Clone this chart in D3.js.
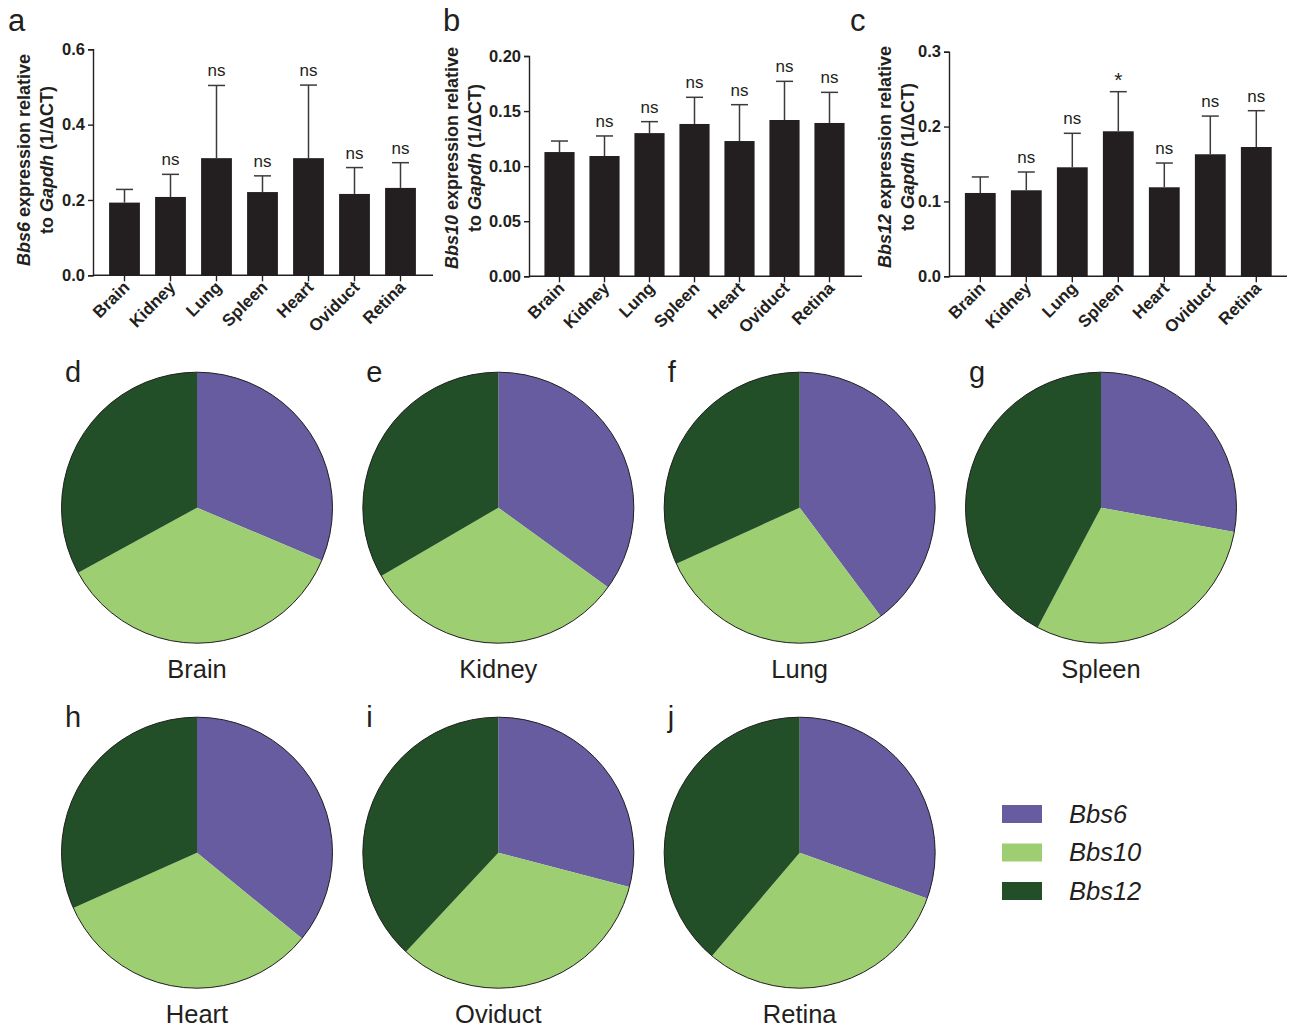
<!DOCTYPE html>
<html><head><meta charset="utf-8">
<script src="https://cdn.jsdelivr.net/npm/d3@7"></script>
<style>
body{margin:0;background:#fff;}
svg{display:block;font-family:"Liberation Sans",Arial,Helvetica,sans-serif;}
</style></head>
<body>
<svg id="chart" width="1291" height="1028"></svg>
<script>
// ---------- data ----------
const tissues = ["Brain","Kidney","Lung","Spleen","Heart","Oviduct","Retina"];
const genes = ["Bbs6","Bbs10","Bbs12"];

const bbs6Mean  = [0.193,0.208,0.311,0.221,0.311,0.216,0.232];
const bbs6Err   = [0.035,0.060,0.193,0.043,0.194,0.070,0.067];
const bbs6Sig   = ["","ns","ns","ns","ns","ns","ns"];

const bbs10Mean = [0.1128,0.1092,0.1300,0.1383,0.1228,0.1419,0.1392];
const bbs10Err  = [0.0100,0.0182,0.0104,0.0242,0.0330,0.0351,0.0278];
const bbs10Sig  = ["","ns","ns","ns","ns","ns","ns"];

const bbs12Mean = [0.1113,0.1149,0.1456,0.1937,0.1189,0.1630,0.1727];
const bbs12Err  = [0.0214,0.0244,0.0454,0.0529,0.0324,0.0510,0.0485];
const bbs12Sig  = ["","ns","ns","*","ns","ns","ns"];

const bbs6Ticks  = [0,0.2,0.4,0.6];
const bbs10Ticks = [0,0.05,0.10,0.15,0.20];
const bbs12Ticks = [0,0.1,0.2,0.3];

// pie fractions per tissue
const pieBbs6  = [0.314,0.350,0.398,0.279,0.359,0.291,0.305];
const pieBbs10 = [0.357,0.316,0.284,0.299,0.324,0.329,0.307];
const pieBbs12 = [0.330,0.334,0.318,0.423,0.317,0.381,0.388];

const pieLetters = ["d","e","f","g","h","i","j"];

// ---------- style ----------
const INK = "#231f20";
const geneColors = ["#675ca0","#9dce72","#224f27"];

const svg = d3.select("#chart");

// ---------- bar panels ----------
const barPanels = [
  {letter:"a", lx:8, ly:31, gene:"Bbs6", mean:bbs6Mean, err:bbs6Err, sig:bbs6Sig, ticks:bbs6Ticks, fmt:".1f",
   max:0.6, ax:93, y0:275.3, yTop:49.3, firstC:124.5, step:46, axEnd:433, t1:30, t2:53, tc:160},
  {letter:"b", lx:443, ly:31, gene:"Bbs10", mean:bbs10Mean, err:bbs10Err, sig:bbs10Sig, ticks:bbs10Ticks, fmt:".2f",
   max:0.2, ax:529, y0:276.3, yTop:56, firstC:559.5, step:45, axEnd:862, t1:458, t2:481, tc:158},
  {letter:"c", lx:850, ly:31, gene:"Bbs12", mean:bbs12Mean, err:bbs12Err, sig:bbs12Sig, ticks:bbs12Ticks, fmt:".1f",
   max:0.3, ax:949, y0:276.3, yTop:51.7, firstC:980.3, step:46, axEnd:1287, t1:891, t2:914, tc:157}
];

barPanels.forEach(p => {
  const g = svg.append("g");
  const pad = 0.33;
  const x = d3.scaleBand().domain(tissues)
    .range([p.firstC - p.step/2, p.firstC - p.step/2 + p.step*tissues.length])
    .paddingInner(pad).paddingOuter(pad/2);
  const y = d3.scaleLinear().domain([0,p.max]).range([p.y0,p.yTop]);

  // bars
  g.selectAll("rect.bar").data(tissues).join("rect")
    .attr("x", d => x(d)).attr("width", x.bandwidth())
    .attr("y", (d,i) => y(p.mean[i])).attr("height", (d,i) => p.y0 - y(p.mean[i]))
    .attr("fill", INK);

  // error bars
  const capW = 8.5;
  const eb = g.selectAll("g.eb").data(tissues).join("g");
  eb.append("line")
    .attr("x1", d => x(d)+x.bandwidth()/2).attr("x2", d => x(d)+x.bandwidth()/2)
    .attr("y1", (d,i) => y(p.mean[i])).attr("y2", (d,i) => y(p.mean[i]+p.err[i]))
    .attr("stroke","#3c3a3b").attr("stroke-width",1.5);
  eb.append("line")
    .attr("x1", d => x(d)+x.bandwidth()/2-capW).attr("x2", d => x(d)+x.bandwidth()/2+capW)
    .attr("y1", (d,i) => y(p.mean[i]+p.err[i])).attr("y2", (d,i) => y(p.mean[i]+p.err[i]))
    .attr("stroke","#3c3a3b").attr("stroke-width",1.5);

  // significance labels
  g.selectAll("text.sig").data(tissues).join("text")
    .attr("x", d => x(d)+x.bandwidth()/2)
    .attr("y", (d,i) => y(p.mean[i]+p.err[i]) - (p.sig[i]==="*" ? 5 : 9))
    .attr("text-anchor","middle")
    .attr("font-size", (d,i) => p.sig[i]==="*" ? 21 : 17)
    .attr("fill", INK)
    .text((d,i) => p.sig[i]);

  // y axis
  const yAxis = g.append("g").attr("transform",`translate(${p.ax},0)`)
    .call(d3.axisLeft(y).tickValues(p.ticks).tickFormat(d3.format(p.fmt)).tickSize(5).tickPadding(3));
  yAxis.select(".domain").attr("stroke",INK).attr("stroke-width",1.4);
  yAxis.selectAll(".tick line").attr("stroke",INK).attr("stroke-width",1.4);
  yAxis.selectAll("text").attr("font-size",16.5).attr("font-weight","bold").attr("fill",INK)
    .attr("font-family","Liberation Sans, Arial, sans-serif");

  // x axis
  const xAxis = g.append("g").attr("transform",`translate(0,${p.y0})`)
    .call(d3.axisBottom(x).tickSize(6).tickSizeOuter(0));
  xAxis.select(".domain").remove();
  xAxis.append("line").attr("x1",p.ax).attr("x2",p.axEnd).attr("stroke",INK).attr("stroke-width",1.4);
  xAxis.selectAll(".tick line").attr("stroke",INK).attr("stroke-width",1.4);
  xAxis.selectAll(".tick text")
    .attr("x",0).attr("y",0).attr("dy",0)
    .attr("transform","translate(6,13) rotate(-45)")
    .attr("text-anchor","end")
    .attr("font-size",17).attr("font-weight","bold").attr("fill",INK)
    .attr("font-family","Liberation Sans, Arial, sans-serif");

  // y title
  const t1 = g.append("text").attr("transform",`translate(${p.t1},${p.tc}) rotate(-90)`)
    .attr("text-anchor","middle").attr("font-size",18).attr("font-weight","bold").attr("fill",INK);
  t1.append("tspan").attr("font-style","italic").text(p.gene);
  t1.append("tspan").text(" expression relative");
  const t2 = g.append("text").attr("transform",`translate(${p.t2},${p.tc}) rotate(-90)`)
    .attr("text-anchor","middle").attr("font-size",18).attr("font-weight","bold").attr("fill",INK);
  t2.append("tspan").text("to ");
  t2.append("tspan").attr("font-style","italic").text("Gapdh");
  t2.append("tspan").text(" (1/\u0394CT)");

  // panel letter
  svg.append("text").attr("x",p.lx).attr("y",p.ly).attr("font-size",31).attr("fill",INK).text(p.letter);
});

// ---------- pies ----------
const R = 135.5;
const colX = d3.scaleLinear().domain([0,3]).range([197,1101]);
const rowY = [507.7, 852.7];
const pie = d3.pie().sort(null).value(d => d);
const arc = d3.arc().innerRadius(0).outerRadius(R);

tissues.forEach((t,i) => {
  const col = i < 4 ? i : i - 4;
  const row = i < 4 ? 0 : 1;
  const cx = colX(col), cy = rowY[row];
  const g = svg.append("g").attr("transform",`translate(${cx},${cy})`);
  const vals = [pieBbs6[i], pieBbs10[i], pieBbs12[i]];
  g.selectAll("path").data(pie(vals)).join("path")
    .attr("d", arc).attr("fill", (d,k) => geneColors[k]);
  g.append("circle").attr("r",R).attr("fill","none").attr("stroke",INK).attr("stroke-width",1);
  g.append("text").attr("x",0).attr("y",R + 35).attr("text-anchor","middle")
    .attr("font-size",25.5).attr("fill",INK).text(t);
  svg.append("text").attr("x",cx - 132).attr("y",cy - 126)
    .attr("font-size",29).attr("fill",INK).text(pieLetters[i]);
});

// ---------- legend ----------
const leg = svg.append("g");
const legY = d3.scalePoint().domain(genes).range([805,882]);
leg.selectAll("rect").data(genes).join("rect")
  .attr("x",1002).attr("y", d => legY(d)).attr("width",40).attr("height",18)
  .attr("fill",(d,k) => geneColors[k]);
leg.selectAll("text").data(genes).join("text")
  .attr("x",1069).attr("y", d => legY(d)+17.5)
  .attr("font-size",25.5).attr("font-style","italic").attr("fill",INK).text(d => d);
</script>
</body></html>
